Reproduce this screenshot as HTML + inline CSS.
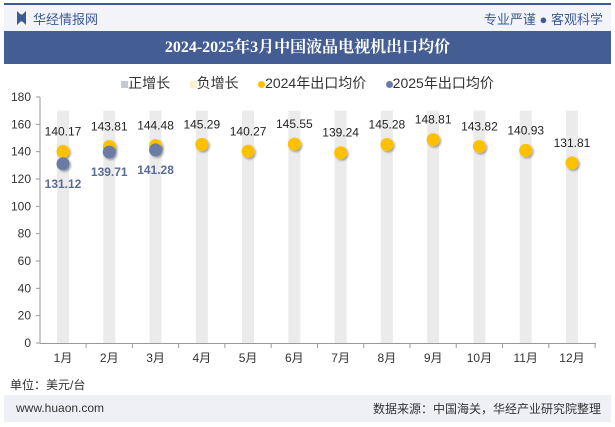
<!DOCTYPE html>
<html><head><meta charset="utf-8"><style>
body{margin:0;width:615px;height:427px;background:#fff;overflow:hidden;font-family:"Liberation Sans","Noto Sans CJK SC",sans-serif;position:relative}
.abs{position:absolute}
</style></head><body>
<div class="abs" style="left:4px;top:3px;width:607px;height:2px;background:#3d5a96"></div>
<div class="abs" style="left:4px;top:5px;width:607px;height:26px;background:#f3f4f9"></div>
<div class="abs" style="left:17px;top:11px;width:9px;height:14px;background:#3d5a96;clip-path:polygon(0 0,40% 25%,60% 25%,100% 0,100% 100%,60% 75%,40% 75%,0 100%)"></div>
<div class="abs" style="left:33px;top:9px;font-size:13px;color:#3d5a96">华经情报网</div>
<div class="abs" style="right:12px;top:9px;font-size:13px;color:#3d5a96">专业严谨 ● 客观科学</div>
<div class="abs" style="left:4px;top:31px;width:607px;height:33px;background:#445d93;color:#fff;font-family:'Liberation Serif','Noto Serif CJK SC',serif;font-weight:bold;font-size:16px;line-height:33px;text-align:center">2024-2025年3月中国液晶电视机出口均价</div>
<div class="abs" style="left:0;top:73px;width:615px;text-align:center;font-size:14px;color:#333">
<span><span style="display:inline-block;width:7px;height:7px;background:#c4c9d6"></span>正增长</span>&nbsp;&nbsp;&nbsp;&nbsp;
<span><span style="display:inline-block;width:7px;height:7px;background:#fbf0d0"></span>负增长</span>&nbsp;&nbsp;&nbsp;&nbsp;
<span><span style="display:inline-block;width:7px;height:7px;border-radius:50%;background:#ffc000"></span>2024年出口均价</span>&nbsp;&nbsp;&nbsp;&nbsp;
<span><span style="display:inline-block;width:7px;height:7px;border-radius:50%;background:#6a7ca3"></span>2025年出口均价</span>
</div>
<svg class="abs" style="left:0;top:0" width="615" height="427">
<defs><filter id="sh" x="-50%" y="-50%" width="200%" height="200%"><feDropShadow dx="1.5" dy="1.5" stdDeviation="1" flood-color="#000" flood-opacity="0.35"/></filter></defs>
<g id="g"></g>
</svg>
<div class="abs" style="left:10px;top:376px;font-size:12px;color:#333">单位：美元/台</div>
<div class="abs" style="left:4px;top:395px;width:607px;height:27px;background:#eef0f6"></div>
<div class="abs" style="left:16px;top:401px;font-size:12px;color:#333">www.huaon.com</div>
<div class="abs" style="right:14px;top:400px;font-size:12px;color:#333">数据来源：中国海关，华经产业研究院整理</div>
<script>
const categories=["1月","2月","3月","4月","5月","6月","7月","8月","9月","10月","11月","12月"];
const values2024=[140.17,143.81,144.48,145.29,140.27,145.55,139.24,145.28,148.81,143.82,140.93,131.81];
const values2025=[131.12,139.71,141.28];
const yTicks=[0,20,40,60,80,100,120,140,160,180];
const bandValue=170;
const NS="http://www.w3.org/2000/svg";
const g=document.getElementById('g');
const y=v=>343-v*(246/180);
const x=i=>63+i*46.27;
function mk(t,a){const e=document.createElementNS(NS,t);for(const k in a)e.setAttribute(k,a[k]);g.appendChild(e);return e;}
categories.forEach((c,i)=>{
 const b=mk('rect',{x:x(i)-6,y:y(bandValue),width:12,height:y(0)-y(bandValue),fill:'#ebebeb'});
 
 
 const t=mk('text',{x:x(i),y:362,'font-size':12,'text-anchor':'middle',fill:'#333'});t.textContent=c;
 
 
 mk('line',{x1:x(i)+23.1,x2:x(i)+23.1,y1:343,y2:348,stroke:'#999'});
});
mk('line',{x1:40,x2:40,y1:97,y2:343,stroke:'#999'});
mk('line',{x1:40,x2:596,y1:343.5,y2:343.5,stroke:'#999'});
yTicks.forEach(v=>{
 mk('line',{x1:36,x2:40,y1:y(v),y2:y(v),stroke:'#999'});
 const t=mk('text',{x:31,y:y(v)+4,'font-size':12,'text-anchor':'end',fill:'#333'});t.textContent=v;
 
 
});
values2024.forEach((v,i)=>{
 const c=mk('circle',{cx:x(i),cy:y(v),r:6.5,fill:'#ffc000',filter:'url(#sh)'});
 
 
 const t=mk('text',{x:x(i),y:y(v)-16,'font-size':12,'text-anchor':'middle',fill:'#222'});t.textContent=v.toFixed(2);
 
 
});
values2025.forEach((v,i)=>{
 const c=mk('circle',{cx:x(i),cy:y(v),r:6.5,fill:'#6a7ca3',filter:'url(#sh)'});
 
 
 const t=mk('text',{x:x(i),y:y(v)+24,'font-size':12,'font-weight':'bold','text-anchor':'middle',fill:'#5a6b93'});t.textContent=v.toFixed(2);
 
 
});
</script>
</body></html>
